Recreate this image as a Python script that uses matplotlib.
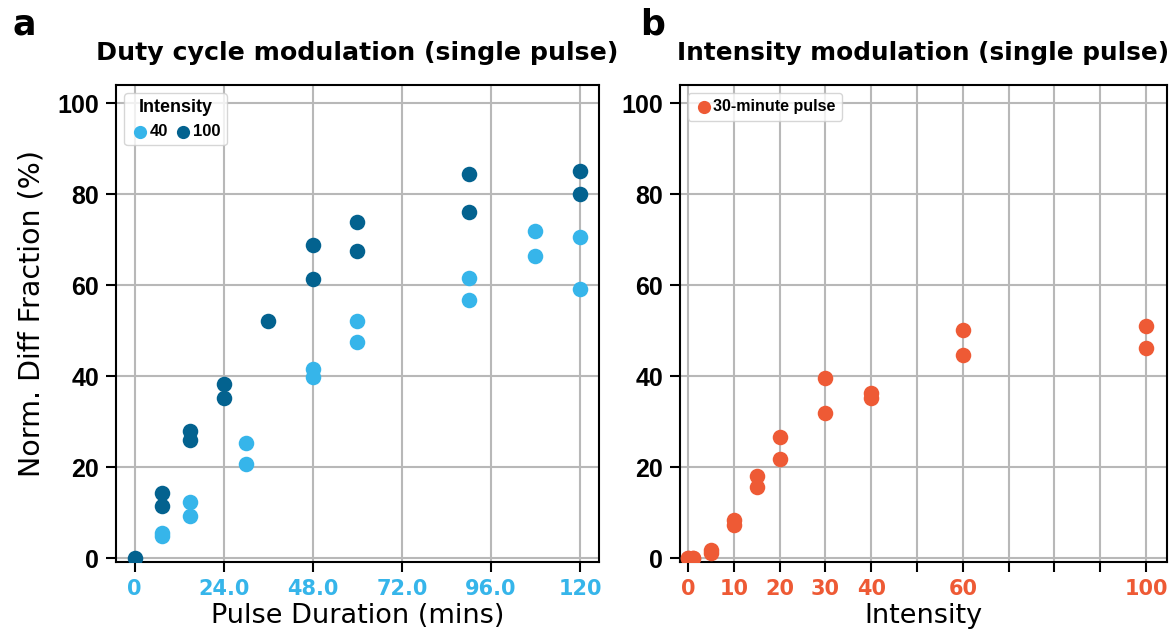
import numpy as np
import matplotlib
matplotlib.use('Agg')
import matplotlib.pyplot as plt

plt.rcParams['font.family'] = 'DejaVu Sans'

light_blue = '#36b5ea'
dark_blue = '#03628f'
orange = '#ee5a35'

# panel a: duty cycle modulation
dur_40 = [7.5, 7.5, 15, 15, 30, 30, 48, 48, 60, 60, 90, 90, 108, 108, 120, 120]
val_40 = [5.6, 4.9, 12.3, 9.3, 25.4, 20.8, 41.7, 39.9, 52.2, 47.6, 61.6, 56.8, 71.9, 66.4, 70.6, 59.2]
dur_100 = [0, 7.5, 7.5, 15, 15, 24, 24, 36, 48, 48, 60, 60, 90, 90, 120, 120]
val_100 = [0, 14.4, 11.6, 27.9, 26.1, 38.4, 35.3, 52.2, 68.9, 61.4, 73.9, 67.5, 84.4, 76.1, 85.1, 80.0]
dur_ticks = [0, 24, 48, 72, 96, 120]
dur_labels = ['0', '24.0', '48.0', '72.0', '96.0', '120']

# panel b: intensity modulation
intensity = [0, 0, 1, 1, 5, 5, 10, 10, 15, 15, 20, 20, 30, 30, 40, 40, 60, 60, 100, 100]
val_int = [0, 0, 0, 0, 1.8, 1.2, 8.5, 7.3, 18.0, 15.7, 26.6, 21.9, 39.7, 32.0, 36.3, 35.2, 50.2, 44.7, 51.1, 46.3]
int_ticks = list(range(0, 101, 10))
int_labels = ['0', '10', '20', '30', '40', '', '60', '', '', '', '100']

y_ticks = [0, 20, 40, 60, 80, 100]

fig = plt.figure(figsize=(11.76, 6.37), dpi=100)
ax1 = fig.add_axes([0.0986, 0.1177, 0.4104, 0.749])
ax2 = fig.add_axes([0.578, 0.1177, 0.414, 0.749])

ms = 125
ax1.scatter(dur_40, val_40, s=ms, color=light_blue, label='40', zorder=3, linewidths=0)
ax1.scatter(dur_100, val_100, s=ms, color=dark_blue, label='100', zorder=3, linewidths=0)
ax2.scatter(intensity, val_int, s=ms, color=orange, label='30-minute pulse', zorder=3, linewidths=0)

for ax in (ax1, ax2):
    ax.set_ylim(-0.8, 104)
    ax.set_yticks(y_ticks)
    ax.set_yticklabels([str(v) for v in y_ticks], family='Liberation Sans',
                       fontweight='bold', fontsize=18)
    ax.grid(True, color='#b8b8b8', linewidth=1.5, zorder=0)
    ax.set_axisbelow(True)
    for sp in ax.spines.values():
        sp.set_linewidth(1.5)
        sp.set_color('black')
    ax.tick_params(axis='both', direction='out', length=7, width=1.5, pad=5)

ax1.set_xlim(-5, 125)
ax1.set_xticks(dur_ticks)
ax1.set_xticklabels(dur_labels, color=light_blue, fontweight='bold', fontsize=15)
ax1.set_xlabel('Pulse Duration (mins)', fontsize=19.5, labelpad=3)
ax1.set_ylabel('Norm. Diff Fraction (%)', fontsize=20.5, labelpad=8)
ax1.yaxis.set_label_coords(-0.145, 0.52)
ax1.set_title('Duty cycle modulation (single pulse)', fontsize=18.2, fontweight='bold', pad=18)
leg1 = ax1.legend(title='Intensity', loc='upper left', ncol=2,
                  prop={'family': 'Liberation Sans', 'weight': 'bold', 'size': 12},
                  handletextpad=0.0, columnspacing=0.3, markerscale=0.85,
                  borderpad=0.35, handlelength=1.2, framealpha=0.8, edgecolor='#cccccc')
leg1.get_title().set_fontweight('bold')
leg1.get_title().set_family('Liberation Sans')
leg1.get_title().set_fontsize(13)

ax2.set_xlim(-1.8, 104.5)
ax2.set_xticks(int_ticks)
ax2.set_xticklabels(int_labels, color=orange, fontweight='bold', fontsize=15)
ax2.set_xlabel('Intensity', fontsize=19.5, labelpad=3)
ax2.set_title('Intensity modulation (single pulse)', fontsize=17.8, fontweight='bold', pad=18)
leg2 = ax2.legend(loc='upper left',
                  prop={'family': 'Liberation Sans', 'weight': 'bold', 'size': 11.5},
                  handletextpad=0.0, markerscale=0.85,
                  borderpad=0.4, handlelength=1.2, framealpha=0.8, edgecolor='#cccccc')

fig.text(0.0204, 0.962, 'a', fontsize=25, fontweight='bold', ha='center', va='center')
fig.text(0.555, 0.962, 'b', fontsize=25, fontweight='bold', ha='center', va='center')

fig.savefig('out.png', dpi=100)
